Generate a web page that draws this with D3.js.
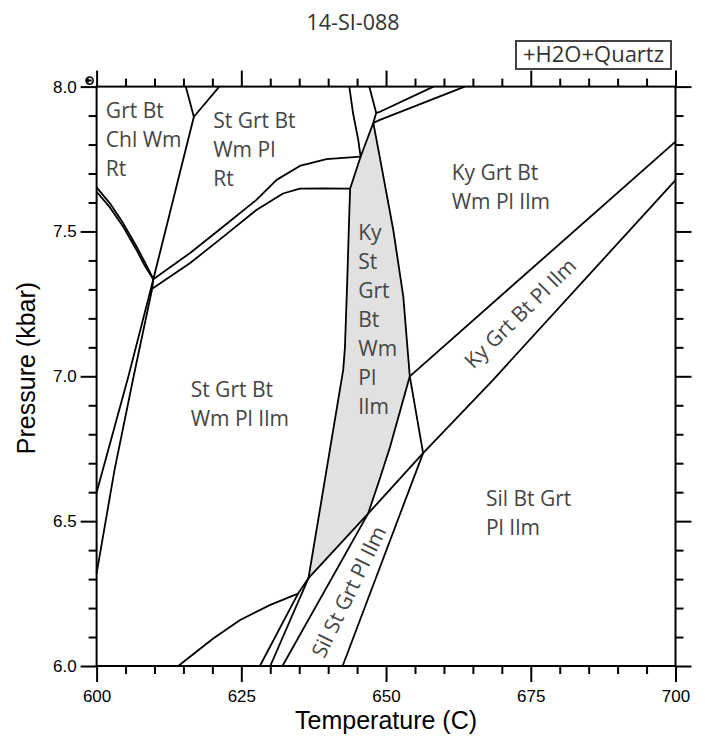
<!DOCTYPE html>
<html>
<head>
<meta charset="utf-8">
<title>14-SI-088</title>
<style type="text/css">
	html, body {margin:0px; padding:0px; background:#fff;}
	svg {display:block;}
</style>
</head>
<body>

<svg></svg>

<script src="https://d3js.org/d3.v7.min.js"></script>
<script type="text/javascript">

	const W = 705, H = 736;

	// tick labels
	const xTicks = [600, 625, 650, 675, 700];
	const yTicks = [6.0, 6.5, 7.0, 7.5, 8.0];

	// invariant points, [T (C), P (kbar)]
	const TP1 = [609.8, 7.335];
	const TP2 = [609.6, 7.302];
	const A   = [616.8, 7.896];
	const J4  = [648.3, 7.909];
	const T0  = [647.8, 7.875];
	const G1  = [645.6, 7.758];
	const G2  = [643.8, 7.648];
	const J1  = [654.1, 7.000];
	const J2  = [656.4, 6.735];
	const J3  = [646.9, 6.526];
	const V   = [636.6, 6.303];
	const Cj  = [634.8, 6.250];

	// reaction lines
	const chlOutUpper = [[600, 7.652], [602.3, 7.597], [604.6, 7.528], [606.9, 7.448], [608.6, 7.384], TP1];
	const chlOutLower = [[600, 7.637], [602.3, 7.583], [604.6, 7.516], [606.9, 7.436], [608.4, 7.379], TP1];
	const topLeft1 = [[615.4, 8.0], A];
	const topLeft2 = [[621.2, 8.0], A];
	const aToTP = [A, TP1];
	const rtOutUpper = [TP1, [616.1, 7.425], [621.9, 7.517], [627.6, 7.609], [631.1, 7.678], [635.1, 7.726], [639.7, 7.750], G1];
	const rtOutLower = [TP2, [616.1, 7.390], [621.9, 7.482], [627.6, 7.574], [632.2, 7.631], [635.1, 7.648], [639.2, 7.649], G2];
	const tpDownA = [TP1, [605.5, 7.0], [600, 6.599]];
	const tpDownB = [TP1, TP2, [606.4, 7.0], [603.1, 6.677], [600, 6.32]];
	const topMid1 = [[643.65, 8.0], [644.3, 7.908], [645.2, 7.816], G1];
	const topMid2 = [[647.1, 8.0], J4, T0];
	const neUpper = [J4, [648.95, 7.913], [658.2, 8.0]];
	const neLower = [T0, [648.95, 7.885], [663.6, 8.0]];
	const kyRight = [T0, [648.9, 7.758], [651.25, 7.505], [652.98, 7.275], J1];
	const kyLeft = [T0, G1, G2, [643.65, 7.563], [643.3, 7.332], [642.9, 7.10], [642.6, 7.022], V];
	const diag1 = [[700, 7.81], J1];
	const j1ToJ3 = [J1, [650.7, 6.757], [648.95, 6.648], J3];
	const j1ToJ2 = [J1, J2];
	const longDiag = [[628.2, 6.0], Cj, V, J3, J2, [668.5, 6.988], [700, 7.677]];
	const curveC = [[614.1, 6.0], [620.2, 6.096], [624.8, 6.159], [630.0, 6.211], Cj];
	const line630 = [[630.0, 6.0], V];
	const line632 = [[632.1, 6.0], J3];
	const line642 = [[642.5, 6.0], J2];

	const reactions = [chlOutUpper, chlOutLower, topLeft1, topLeft2, aToTP, rtOutUpper, rtOutLower,
		tpDownA, tpDownB, topMid1, topMid2, neUpper, neLower, kyRight, kyLeft, diag1, j1ToJ3,
		j1ToJ2, longDiag, curveC, line630, line632, line642];

	// shaded Ky St Grt Bt Wm Pl Ilm field
	const kyField = [T0, [648.9, 7.758], [651.25, 7.505], [652.98, 7.275], J1, [650.7, 6.757], [648.95, 6.648], J3,
		V, [642.6, 7.022], [642.9, 7.10], [643.3, 7.332], [643.65, 7.563], G2, G1];

	// field labels: T, P of first baseline, lines
	const fieldLabels = [
		[601.6, 7.890, ['Grt Bt', 'Chl Wm', 'Rt']],
		[620.15, 7.856, ['St Grt Bt', 'Wm Pl', 'Rt']],
		[645.2, 7.471, ['Ky', 'St', 'Grt', 'Bt', 'Wm', 'Pl', 'Ilm']],
		[661.33, 7.678, ['Ky Grt Bt', 'Wm Pl Ilm']],
		[616.25, 6.930, ['St Grt Bt', 'Wm Pl Ilm']],
		[667.25, 6.553, ['Sil Bt Grt', 'Pl Ilm']]
	];
	// rotated labels: T, P of centre, angle, text
	const bandLabels = [
		[673.1, 7.219, -44.5, 'Ky Grt Bt Pl Ilm'],
		[643.47, 6.257, -64, 'Sil St Grt Pl Ilm']
	];

	const svg = d3.select('svg').attr('width', W).attr('height', H);

	const x = d3.scaleLinear().domain([600, 700]).range([96.6, 675.5]);
	const y = d3.scaleLinear().domain([6, 8]).range([666, 86.6]);

	const line = d3.line()
		.x(function(d) { return x(d[0]); })
		.y(function(d) { return y(d[1]); });

	svg.append('path')
		.datum(kyField)
		.attr('d', line.curve(d3.curveLinearClosed))
		.attr('fill', '#e1e1e1')
		.attr('stroke', 'none');
	line.curve(d3.curveLinear);

	svg.append('g')
		.selectAll('path')
		.data(reactions)
		.enter().append('path')
		.attr('d', line)
		.attr('fill', 'none')
		.attr('stroke', '#000')
		.attr('stroke-width', 1.8)
		.attr('stroke-linejoin', 'round');

	// field labels
	const lineStep = 0.1; // one text line = 0.1 kbar
	fieldLabels.forEach(function(f) {
		const t = svg.append('text')
			.attr('font-family', '"Open Sans", sans-serif')
			.attr('font-size', 21)
			.attr('fill', '#454545');
		f[2].forEach(function(s, i) {
			t.append('tspan')
				.attr('x', x(f[0]))
				.attr('y', y(f[1] - i * lineStep))
				.text(s);
		});
	});

	svg.selectAll('.band')
		.data(bandLabels)
		.enter().append('text')
		.attr('transform', function(d) { return 'translate(' + x(d[0]) + ',' + y(d[1]) + ') rotate(' + d[2] + ')'; })
		.attr('text-anchor', 'middle')
		.attr('dominant-baseline', 'central')
		.attr('font-family', '"Open Sans", sans-serif')
		.attr('font-size', 21)
		.attr('fill', '#454545')
		.text(function(d) { return d[3]; });

	// axes
	const xMinor = d3.range(600, 701, 5).filter(function(v) { return v % 25 !== 0; });
	const yMinor = d3.range(60, 81, 1).map(function(v) { return v / 10; }).filter(function(v) { return Math.round(v * 10) % 5 !== 0; });

	function styleAxis(g) {
		g.select('.domain').remove();
		g.selectAll('line').attr('stroke', '#000').attr('stroke-width', 2);
		g.selectAll('text')
			.attr('font-family', '"Liberation Sans", Arial, sans-serif')
			.attr('font-size', 17)
			.attr('fill', '#000');
	}

	svg.append('g').attr('transform', 'translate(0,' + y(6) + ')')
		.call(d3.axisBottom(x).tickValues(xTicks).tickSize(16).tickPadding(8).tickFormat(d3.format('d'))).call(styleAxis);
	svg.append('g').attr('transform', 'translate(0,' + y(6) + ')')
		.call(d3.axisBottom(x).tickValues(xMinor).tickSize(8).tickFormat('')).call(styleAxis);
	svg.append('g').attr('transform', 'translate(0,' + y(8) + ')')
		.call(d3.axisTop(x).tickValues(xTicks).tickSize(16).tickFormat('')).call(styleAxis);
	svg.append('g').attr('transform', 'translate(0,' + y(8) + ')')
		.call(d3.axisTop(x).tickValues(xMinor).tickSize(8).tickFormat('')).call(styleAxis);

	svg.append('g').attr('transform', 'translate(' + x(600) + ',0)')
		.call(d3.axisLeft(y).tickValues(yTicks).tickSize(16).tickPadding(4).tickFormat(d3.format('.1f'))).call(styleAxis);
	svg.append('g').attr('transform', 'translate(' + x(600) + ',0)')
		.call(d3.axisLeft(y).tickValues(yMinor).tickSize(8).tickFormat('')).call(styleAxis);
	svg.append('g').attr('transform', 'translate(' + x(700) + ',0)')
		.call(d3.axisRight(y).tickValues(yTicks).tickSize(16).tickFormat('')).call(styleAxis);
	svg.append('g').attr('transform', 'translate(' + x(700) + ',0)')
		.call(d3.axisRight(y).tickValues(yMinor).tickSize(8).tickFormat('')).call(styleAxis);

	svg.append('rect')
		.attr('x', x(600)).attr('y', y(8))
		.attr('width', x(700) - x(600)).attr('height', y(6) - y(8))
		.attr('fill', 'none').attr('stroke', '#000').attr('stroke-width', 2);

	// little arrow glyph at the top left corner
	const ax = x(600) - 8, ay = y(8) - 6;
	svg.append('circle').attr('cx', ax + 1).attr('cy', ay).attr('r', 3.6)
		.attr('fill', '#fff').attr('stroke', '#000').attr('stroke-width', 1.6);
	svg.append('path')
		.attr('d', 'M' + (ax - 3) + ',' + ay + 'l3,-3v2h3v2h-3v2z')
		.attr('fill', '#000');

	// titles
	svg.append('text')
		.attr('x', 353).attr('y', 30)
		.attr('text-anchor', 'middle')
		.attr('font-family', '"Open Sans", sans-serif')
		.attr('font-size', 21.5)
		.attr('fill', '#333')
		.text('14-SI-088');

	svg.append('rect')
		.attr('x', 516).attr('y', 41).attr('width', 155).attr('height', 28)
		.attr('fill', '#fff').attr('stroke', '#444').attr('stroke-width', 2);
	svg.append('text')
		.attr('x', 593.5).attr('y', 62)
		.attr('text-anchor', 'middle')
		.attr('font-family', '"Open Sans", sans-serif')
		.attr('font-size', 22)
		.attr('fill', '#333')
		.text('+H2O+Quartz');

	svg.append('text')
		.attr('x', (x(600) + x(700)) / 2).attr('y', 729)
		.attr('text-anchor', 'middle')
		.attr('font-family', '"Liberation Sans", Arial, sans-serif')
		.attr('font-size', 25)
		.attr('fill', '#000')
		.text('Temperature (C)');

	svg.append('text')
		.attr('transform', 'translate(35,368) rotate(-90)')
		.attr('text-anchor', 'middle')
		.attr('font-family', '"Liberation Sans", Arial, sans-serif')
		.attr('font-size', 25)
		.attr('fill', '#000')
		.text('Pressure (kbar)');

</script>
</body>
</html>
